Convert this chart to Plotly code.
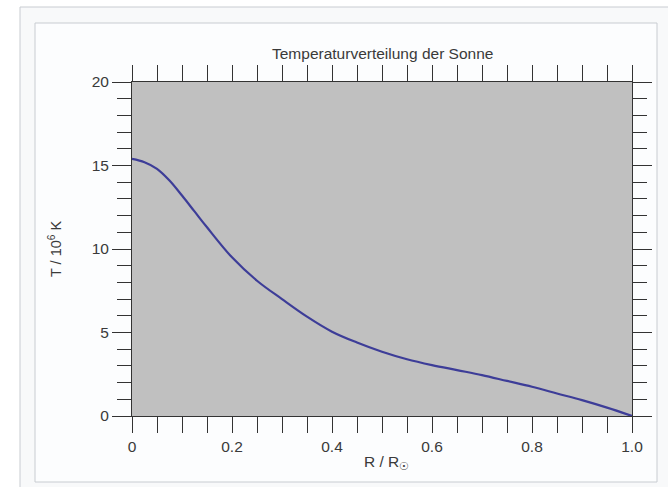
import plotly.graph_objects as go

# Temperature profile of the Sun (radius in solar radii, T in 10^6 K)
radius = [0.0, 0.025, 0.05, 0.075, 0.10, 0.125, 0.15, 0.20, 0.25, 0.30, 0.35,
          0.40, 0.45, 0.50, 0.55, 0.60, 0.65, 0.70, 0.75, 0.80, 0.85, 0.90,
          0.95, 1.0]
temperature = [15.4, 15.2, 14.8, 14.1, 13.2, 12.25, 11.3, 9.5, 8.1, 7.0, 5.95,
               5.05, 4.4, 3.85, 3.4, 3.05, 2.75, 2.45, 2.1, 1.75, 1.35, 0.95,
               0.5, 0.0]

x_tickvals = [0, 0.2, 0.4, 0.6, 0.8, 1.0]
x_ticktext = ["0", "0.2", "0.4", "0.6", "0.8", "1.0"]
y_tickvals = [0, 5, 10, 15, 20]
y_ticktext = ["0", "5", "10", "15", "20"]

W, H = 668, 487
L, R, T, B = 132, 36, 82, 71
pw, ph = W - L - R, H - T - B


def px(x):
    return (x - L) / pw


def py(y):
    return (H - B - y) / ph


FONT = "Liberation Sans, Arial, sans-serif"
INK = "#3a3a3a"

fig = go.Figure()
fig.add_trace(go.Scatter(
    x=radius, y=temperature, mode="lines",
    line=dict(color="#3d3d98", width=2.2, shape="spline", smoothing=1.0),
    hoverinfo="skip", showlegend=False,
))

axis_common = dict(
    showgrid=False, zeroline=False, showline=True, linecolor="#333333",
    linewidth=1, mirror="allticks", ticks="outside", tickcolor="#333333",
    tickwidth=1, tickfont=dict(family=FONT, size=15.5, color=INK),
)

fig.update_xaxes(
    range=[0, 1], tickvals=x_tickvals, ticktext=x_ticktext, ticklen=16,
    minor=dict(dtick=0.05, ticks="outside", ticklen=16, tickcolor="#333333",
               showgrid=False),
    **axis_common,
)
fig.update_yaxes(
    range=[0, 20], tickvals=y_tickvals, ticktext=y_ticktext, ticklen=19,
    minor=dict(dtick=1, ticks="outside", ticklen=14, tickcolor="#333333",
               showgrid=False),
    **axis_common,
)

shapes = [
    # thumbnail frame
    dict(type="rect", xref="paper", yref="paper",
         x0=px(20), x1=px(700), y0=py(520), y1=py(7),
         line=dict(color="#c8ccd1", width=1), fillcolor="#f8f9fa",
         layer="below"),
    dict(type="rect", xref="paper", yref="paper",
         x0=px(35), x1=px(657), y0=py(482), y1=py(23),
         line=dict(color="#c8ccd1", width=1), fillcolor="#fcfdfe",
         layer="below"),
    # plot area
    dict(type="rect", xref="x", yref="y", x0=0, x1=1, y0=0, y1=20,
         line=dict(width=0), fillcolor="#c0c0c0", layer="below"),
]

annotations = [
    dict(text="Temperaturverteilung der Sonne", xref="paper", yref="paper",
         x=0.5, y=py(53), xanchor="center", yanchor="middle",
         showarrow=False, font=dict(family=FONT, size=15.5, color=INK)),
    dict(text="T / 10<sup>6</sup> K", xref="paper", yref="paper",
         x=px(55), y=0.5, xanchor="center", yanchor="middle", textangle=-90,
         showarrow=False, font=dict(family=FONT, size=14.5, color=INK)),
    dict(text="R / R<sub>☉</sub>", xref="paper", yref="paper",
         x=px(386), y=py(462), xanchor="center", yanchor="middle",
         showarrow=False, font=dict(family=FONT, size=15.5, color=INK)),
]

fig.update_layout(
    width=W, height=H, margin=dict(l=L, r=R, t=T, b=B),
    paper_bgcolor="white", plot_bgcolor="#c0c0c0",
    shapes=shapes, annotations=annotations,
)

fig.write_html("out.html", config={"displayModeBar": False})
